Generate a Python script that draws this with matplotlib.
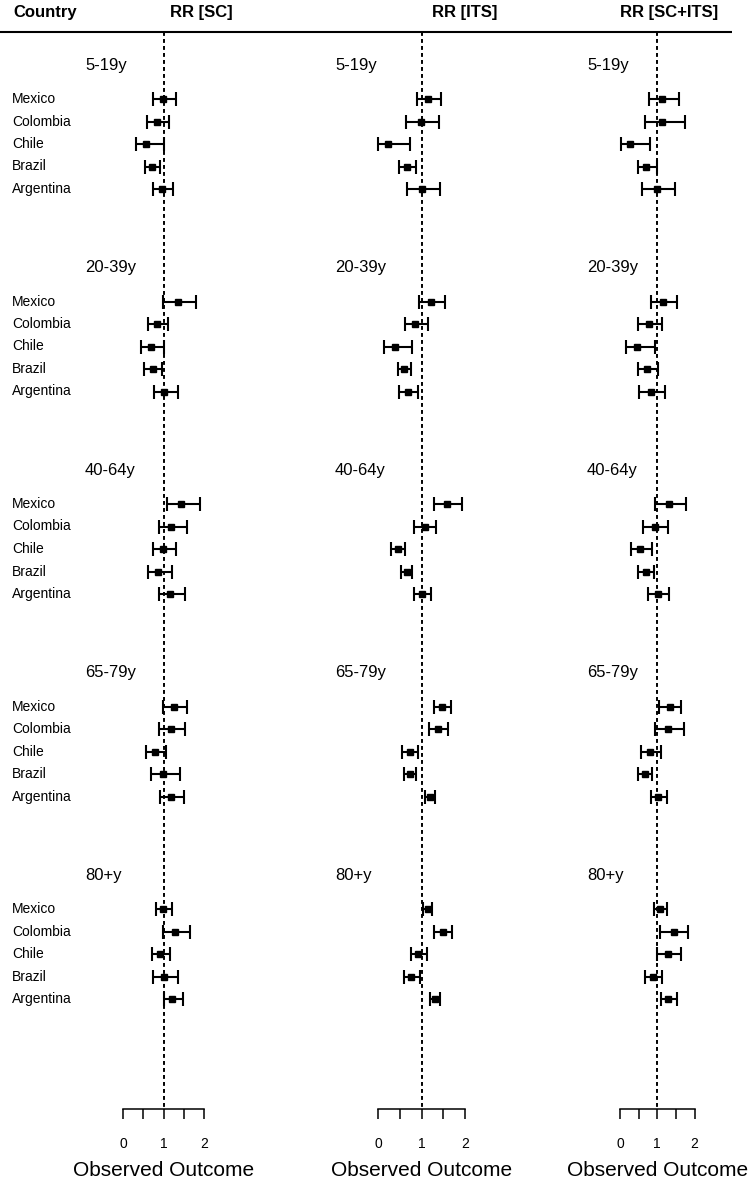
import numpy as np
import matplotlib
matplotlib.use("Agg")
import matplotlib.pyplot as plt
from matplotlib.transforms import blended_transform_factory

plt.rcParams["font.family"] = ["Liberation Sans", "DejaVu Sans"]

# ------------------------------------------------------------
# data: RR estimate, lower and upper CI per age group / country
# ------------------------------------------------------------
countries = ["Mexico", "Colombia", "Chile", "Brazil", "Argentina"]
age_groups = ["5-19y", "20-39y", "40-64y", "65-79y", "80+y"]
panels = ["RR [SC]", "RR [ITS]", "RR [SC+ITS]"]

sc_est = [[0.99, 0.83, 0.56, 0.72, 0.97],
          [1.35, 0.83, 0.69, 0.73, 1.02],
          [1.43, 1.18, 0.98, 0.87, 1.16],
          [1.26, 1.18, 0.80, 0.98, 1.18],
          [0.99, 1.29, 0.92, 1.01, 1.22]]
sc_lo = [[0.75, 0.60, 0.32, 0.54, 0.75],
         [0.98, 0.62, 0.44, 0.53, 0.76],
         [1.08, 0.88, 0.73, 0.61, 0.88],
         [0.98, 0.88, 0.58, 0.68, 0.92],
         [0.81, 0.98, 0.72, 0.74, 1.00]]
sc_hi = [[1.30, 1.13, 1.01, 0.91, 1.24],
         [1.80, 1.10, 1.02, 0.97, 1.35],
         [1.91, 1.57, 1.31, 1.21, 1.52],
         [1.58, 1.53, 1.06, 1.40, 1.51],
         [1.21, 1.65, 1.17, 1.36, 1.48]]

its_est = [[1.15, 0.98, 0.23, 0.67, 1.00],
           [1.21, 0.85, 0.39, 0.59, 0.69],
           [1.58, 1.08, 0.45, 0.66, 1.01],
           [1.47, 1.38, 0.73, 0.73, 1.19],
           [1.14, 1.49, 0.92, 0.76, 1.30]]
its_lo = [[0.89, 0.64, 0.01, 0.49, 0.66],
          [0.95, 0.62, 0.13, 0.45, 0.48],
          [1.28, 0.83, 0.30, 0.52, 0.83],
          [1.29, 1.18, 0.56, 0.60, 1.07],
          [1.03, 1.29, 0.76, 0.59, 1.19]]
its_hi = [[1.44, 1.40, 0.73, 0.87, 1.42],
          [1.54, 1.15, 0.79, 0.76, 0.93],
          [1.93, 1.34, 0.62, 0.78, 1.22],
          [1.67, 1.60, 0.91, 0.88, 1.32],
          [1.25, 1.70, 1.12, 0.97, 1.42]]

both_est = [[1.14, 1.14, 0.26, 0.71, 0.99],
            [1.16, 0.77, 0.46, 0.72, 0.84],
            [1.31, 0.93, 0.55, 0.69, 1.03],
            [1.35, 1.30, 0.80, 0.67, 1.03],
            [1.08, 1.46, 1.28, 0.89, 1.28]]
both_lo = [[0.79, 0.67, 0.03, 0.48, 0.60],
           [0.82, 0.49, 0.15, 0.47, 0.52],
           [0.95, 0.62, 0.30, 0.49, 0.76],
           [1.04, 0.95, 0.57, 0.48, 0.84],
           [0.90, 1.07, 0.99, 0.68, 1.09]]
both_hi = [[1.58, 1.74, 0.80, 1.00, 1.47],
           [1.54, 1.14, 0.95, 1.02, 1.20],
           [1.77, 1.30, 0.85, 0.90, 1.32],
           [1.65, 1.73, 1.10, 0.85, 1.26],
           [1.27, 1.82, 1.65, 1.13, 1.53]]

xticks = [0, 0.5, 1, 1.5, 2]
xticklabels = ["0", "", "1", "", "2"]

# ------------------------------------------------------------
# layout (pixels of the 750 x 1181 figure)
# ------------------------------------------------------------
W, H = 750, 1181
ROW_PX = 22.5        # spacing between rows
FIRST_PX = 99        # first data row (Mexico, 5-19y)
ROWS_PER_GROUP = 9
# pixel of x=0 and x=2 for each panel
PANEL_PX = [(123, 204), (378, 465), (620, 694.5)]
GROUP_LABEL_PX = [85, 335, 587]
HEADER_PX = [201, 465, 669]


def px_row(py):
    return (py - FIRST_PX) / ROW_PX


TOP_ROW, BOTTOM_ROW = px_row(0), px_row(H)
HEADER_ROW = px_row(12)
RULE_ROW = px_row(32)
AXIS_ROW = px_row(1109)

fig = plt.figure(figsize=(W / 100, H / 100), dpi=100)

# base axes for the label column / header
base = fig.add_axes([0, 0, 1, 1])
base.set_xlim(0, W)
base.set_ylim(BOTTOM_ROW, TOP_ROW)
base.axis("off")
base.plot([0, 732], [RULE_ROW, RULE_ROW], color="k", lw=1.5, solid_capstyle="butt")
base.text(13, HEADER_ROW, "Country", fontsize=12, fontweight="bold", ha="left", va="center")
for hx, name in zip(HEADER_PX, panels):
    base.text(hx, HEADER_ROW, name, fontsize=12, fontweight="bold", ha="center", va="center")

for g, grp in enumerate(age_groups):
    for i, c in enumerate(countries):
        base.text(12, g * ROWS_PER_GROUP + i, c, fontsize=10, ha="left", va="center")

est_all = [sc_est, its_est, both_est]
lo_all = [sc_lo, its_lo, both_lo]
hi_all = [sc_hi, its_hi, both_hi]

for p in range(3):
    x0, x2 = PANEL_PX[p]
    unit = (x2 - x0) / 2.0
    # axes spanning x = -1 .. 3 so nothing gets clipped
    ax = fig.add_axes([(x0 - unit) / W, 0, 4 * unit / W, 1])
    ax.set_xlim(-1, 3)
    ax.set_ylim(BOTTOM_ROW, TOP_ROW)
    ax.patch.set_visible(False)

    ax.vlines(1, RULE_ROW, AXIS_ROW, colors="k", lw=1.4, linestyles=(0, (2.0, 1.6)), zorder=1)

    for g, grp in enumerate(age_groups):
        est = np.array(est_all[p][g])
        lo = np.array(lo_all[p][g])
        hi = np.array(hi_all[p][g])
        rows = g * ROWS_PER_GROUP + np.arange(len(countries))
        ax.errorbar(est, rows, xerr=[est - lo, hi - est], fmt="s", color="k",
                    ms=3.8, capsize=4.7, elinewidth=1.5, capthick=1.5, zorder=3)
        tr = blended_transform_factory(fig.transFigure, ax.transData)
        ax.text(GROUP_LABEL_PX[p] / W, g * ROWS_PER_GROUP - 1.5, grp, transform=tr,
                fontsize=12, ha="left", va="center")

    for side in ["top", "left", "right"]:
        ax.spines[side].set_visible(False)
    ax.spines["bottom"].set_position(("data", AXIS_ROW))
    ax.spines["bottom"].set_bounds(0, 2)
    ax.spines["bottom"].set_linewidth(1.1)
    ax.set_yticks([])
    ax.set_xticks(xticks)
    ax.set_xticklabels(xticklabels)
    ax.tick_params(axis="x", direction="out", length=7.2, width=1.1, pad=13, labelsize=10)
    ax.set_xlabel("Observed Outcome", fontsize=15, labelpad=7)

fig.savefig("out.png", dpi=100)
